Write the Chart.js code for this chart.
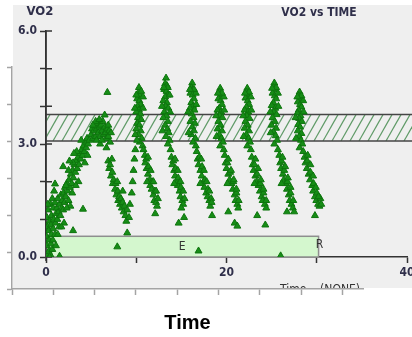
<!DOCTYPE html>
<html>
<head>
<meta charset="utf-8">
<script src="https://cdn.jsdelivr.net/npm/chart.js@4.4.1/dist/chart.umd.min.js"></script>
<style>
  body { margin: 0; background: #fff; }
  #wrap { position: relative; width: 412px; height: 337px; }
  #frame { position: absolute; left: 0; top: 0; }
  #vo2 { position: absolute; left: 13px; top: 5px; background: #efefef; }
</style>
</head>
<body>
<div id="wrap">
  <canvas id="frame" width="412" height="337"></canvas>
  <canvas id="vo2" width="399" height="283"></canvas>
</div>
<script>
const narrow = '"Liberation Sans Narrow", "DejaVu Sans Condensed", "Liberation Sans", sans-serif'
const ink = '#2f2f4a'

// VO2 readings, [minutes, L/min]
const rampUp = [
  [0.05,0.05],[0.1,0.3],[0.05,0.55],[0.15,0.8],[0.1,1.05],[0.3,0.15],[0.35,0.45],[0.3,0.7],
  [0.4,0.95],[0.25,1.25],[0.5,0.05],[0.55,0.35],[0.6,0.6],[0.55,0.85],[0.6,1.1],[0.5,1.4],
  [0.75,0.45],[0.8,0.75],[0.85,1.0],[0.8,1.3],[0.7,1.55],[1.0,0.6],[1.05,0.9],[1.1,1.15],
  [1.0,1.45],[1.2,1.3],[1.25,1.0],[1.3,1.55],[1.4,1.2],[1.45,0.8],[1.5,1.4],[1.6,1.1],
  [1.65,1.65],[1.0,1.94],[1.75,1.3],[1.8,1.5],[1.9,1.25],[1.95,1.7],[2.05,1.45],[2.1,1.85],
  [2.2,1.6],[2.3,1.95],[2.4,1.75],[2.5,1.5],[2.55,2.05],[2.65,1.85],[2.75,2.2],[2.85,1.95],
  [2.95,2.3],[3.05,2.1],[3.15,2.45],[3.25,2.25],[3.35,2.55],[3.45,2.35],[3.55,2.65],[3.65,2.45],
  [3.75,2.75],[3.85,2.6],[3.95,2.85],[4.05,2.7],[4.15,2.95],[4.25,2.8],[4.35,3.05],[4.45,2.9],
  [4.55,3.15],[4.65,3.0],[1.9,2.4],[2.2,1.9],[3.0,2.5],[2.6,2.55],[3.4,2.8],[2.0,0.9],
  [2.7,1.35],[3.6,2.0],[0.4,0.0],[1.5,0.02],[0.9,1.75],[1.3,0.6],[1.7,0.8],[2.3,1.3],
  [2.9,1.7],[3.3,1.9],[2.5,2.3],[3.1,2.75],[3.9,3.1],[4.3,2.5],[4.6,2.7],[0.2,1.4],
  [0.7,0.2],[1.1,0.3]
]
const plateau = [
  [4.8,3.1],[5.0,3.25],[5.1,3.4],[5.2,3.15],[5.3,3.35],[5.4,3.5],[5.5,3.2],[5.6,3.4],
  [5.7,3.55],[5.8,3.3],[5.9,3.45],[6.0,3.2],[6.1,3.5],[6.2,3.35],[6.3,3.6],[6.4,3.25],
  [6.5,3.45],[6.6,3.3],[6.7,3.15],[6.8,3.4],[6.9,3.2],[7.0,3.35],[7.1,3.05],[6.5,3.77],
  [5.5,3.6],[6.0,3.0],[6.7,2.9],[5.2,3.5],[5.6,3.1],[6.2,3.1],[6.9,3.5],[5.9,3.65],
  [7.2,3.3]
]
const firstDecay = [
  [6.9,2.55],[7.0,2.35],[7.1,2.45],[7.2,2.15],[7.35,2.25],[7.4,1.95],[7.5,2.05],[7.65,1.8],
  [7.7,1.95],[7.8,1.65],[7.95,1.75],[8.0,1.5],[8.1,1.6],[8.2,1.4],[8.3,1.55],[8.4,1.3],
  [8.5,1.45],[8.6,1.2],[8.7,1.35],[8.8,1.1],[8.9,0.95],[9.0,1.25],[9.2,1.05],[9.3,1.4],
  [9.5,1.7],[9.6,2.0],[9.7,2.3],[9.8,2.6],[9.9,2.85],[7.3,2.6],[7.9,2.0],[8.5,1.75]
]
const intervalPeaks = [
  [[10.3,4.5],[10.2,4.35],[10.4,4.3],[10.1,4.2],[10.35,4.15],[10.5,4.05],[10.15,4.0],[10.3,3.9],
   [10.0,3.85],[10.45,3.8],[10.2,3.7],[10.55,3.65],[10.1,3.55],[10.35,3.5],[10.0,3.4],[10.5,3.35],
   [10.25,3.25],[10.6,3.15],[10.4,3.05],[10.7,2.95],[10.1,3.1],
   [9.85,3.95],[10.75,3.95],[9.9,3.25],[10.75,4.25],[10.55,4.4],[10.0,4.3]],
  [[13.3,4.75],[13.2,4.6],[13.4,4.55],[13.1,4.45],[13.35,4.4],[13.5,4.3],[13.2,4.25],[13.0,4.15],
   [13.4,4.1],[13.25,4.0],[13.55,3.95],[13.1,3.85],[13.35,3.75],[13.0,3.7],[13.5,3.6],[13.2,3.5],
   [13.45,3.4],[13.6,3.3],[13.3,3.2],[13.7,3.1],[13.5,3.0],
   [12.85,4.0],[13.75,3.85],[12.9,3.35],[13.7,4.3],[13.5,4.5],[13.05,4.5]],
  [[16.2,4.62],[16.1,4.5],[16.3,4.45],[16.0,4.35],[16.25,4.3],[16.4,4.2],[16.1,4.1],[16.3,4.0],
   [15.95,3.95],[16.45,3.9],[16.15,3.8],[16.35,3.7],[16.0,3.6],[16.5,3.55],[16.2,3.45],[16.4,3.35],
   [16.1,3.25],[16.55,3.15],[16.3,3.05],[16.6,2.95],
   [15.75,3.85],[16.65,4.05],[15.8,3.3],[16.6,4.35],[16.4,4.45],[15.95,4.45]],
  [[19.3,4.48],[19.2,4.38],[19.4,4.3],[19.1,4.2],[19.35,4.15],[19.5,4.05],[19.2,3.95],[19.0,3.9],
   [19.4,3.85],[19.25,3.75],[19.55,3.7],[19.1,3.6],[19.35,3.5],[19.0,3.4],[19.5,3.35],[19.2,3.25],
   [19.45,3.15],[19.6,3.05],[19.3,2.95],
   [18.85,3.75],[19.75,3.9],[18.9,3.2],[19.7,4.25],[19.5,4.35],[19.05,4.35]],
  [[22.3,4.48],[22.2,4.38],[22.4,4.3],[22.1,4.22],[22.35,4.15],[22.5,4.05],[22.2,3.98],[22.0,3.9],
   [22.4,3.85],[22.25,3.75],[22.55,3.68],[22.1,3.6],[22.35,3.5],[22.0,3.42],[22.5,3.35],[22.2,3.25],
   [22.45,3.15],[22.6,3.05],[22.3,2.95],
   [21.85,3.75],[22.75,3.9],[21.9,3.2],[22.7,4.25],[22.5,4.38],[22.05,4.35]],
  [[25.3,4.62],[25.2,4.5],[25.4,4.45],[25.1,4.35],[25.35,4.28],[25.5,4.2],[25.2,4.1],[25.0,4.02],
   [25.4,3.95],[25.25,3.85],[25.55,3.78],[25.1,3.7],[25.35,3.6],[25.0,3.5],[25.5,3.42],[25.2,3.32],
   [25.45,3.22],[25.6,3.1],[25.3,3.0],
   [24.85,3.85],[25.75,4.0],[24.9,3.3],[25.7,4.35],[25.5,4.5],[25.05,4.48]],
  [[28.1,4.38],[28.0,4.28],[28.2,4.2],[27.9,4.12],[28.15,4.05],[28.3,3.98],[28.0,3.9],[27.85,3.82],
   [28.2,3.75],[28.05,3.68],[28.35,3.6],[27.95,3.52],[28.15,3.45],[27.9,3.35],[28.3,3.28],[28.05,3.2],
   [28.25,3.1],[28.4,3.0],[28.1,2.9],
   [27.65,3.7],[28.55,3.85],[27.7,3.15],[28.5,4.15],[28.3,4.28],[27.85,4.25]]
]
const intervalDecays = [
  [[10.8,2.85],[10.95,2.7],[11.0,2.5],[11.1,2.6],[11.15,2.35],[11.3,2.2],[11.35,2.4],[11.5,2.05],
   [11.55,1.9],[11.7,1.8],[11.75,2.0],[11.9,1.65],[12.0,1.5],[12.05,1.75],[12.2,1.45],[12.3,1.35],
   [11.3,2.65],[11.6,2.3],[11.9,2.0],[12.2,1.75],[12.4,1.55],[11.2,2.0]],
  [[13.8,2.85],[13.9,2.65],[14.0,2.45],[14.1,2.55],[14.2,2.3],[14.3,2.15],[14.35,2.35],[14.5,2.0],
   [14.6,1.9],[14.65,2.1],[14.8,1.75],[14.9,1.6],[14.95,1.85],[15.1,1.5],[15.2,1.4],[15.0,1.3],
   [14.3,2.6],[14.6,2.3],[14.9,2.0],[15.2,1.75],[15.35,1.55],[14.2,1.95]],
  [[16.7,2.8],[16.8,2.6],[16.9,2.45],[17.0,2.65],[17.1,2.3],[17.25,2.15],[17.3,2.4],[17.45,2.0],
   [17.55,1.85],[17.6,2.05],[17.75,1.7],[17.9,1.6],[17.95,1.8],[18.1,1.5],[18.2,1.35],[18.3,1.55],
   [17.2,2.6],[17.5,2.3],[17.8,2.0],[18.1,1.75],[18.35,1.45],[17.1,1.95]],
  [[19.7,2.85],[19.8,2.7],[19.9,2.5],[20.0,2.35],[20.1,2.5],[20.2,2.2],[20.35,2.05],[20.4,2.25],
   [20.55,1.95],[20.7,1.8],[20.75,2.0],[20.9,1.65],[21.0,1.5],[21.1,1.7],[21.2,1.4],[21.3,1.3],
   [20.2,2.6],[20.5,2.3],[20.8,2.05],[21.1,1.8],[21.35,1.5],[20.1,1.95]],
  [[22.7,2.85],[22.8,2.65],[22.9,2.45],[23.0,2.3],[23.1,2.45],[23.2,2.15],[23.35,2.0],[23.4,2.2],
   [23.55,1.9],[23.7,1.75],[23.75,1.95],[23.9,1.6],[24.0,1.5],[24.1,1.7],[24.25,1.4],[24.4,1.3],
   [23.2,2.6],[23.5,2.35],[23.8,2.05],[24.1,1.8],[24.4,1.5],[23.1,1.95]],
  [[25.7,2.85],[25.85,2.7],[25.95,2.5],[26.05,2.35],[26.1,2.55],[26.25,2.2],[26.35,2.05],[26.4,2.3],
   [26.55,1.95],[26.7,1.8],[26.75,2.0],[26.9,1.65],[27.0,1.5],[27.1,1.7],[27.2,1.4],[27.35,1.3],
   [26.2,2.65],[26.5,2.4],[26.8,2.1],[27.1,1.85],[27.4,1.5],[26.1,1.95]],
  [[28.5,2.8],[28.65,2.65],[28.75,2.5],[28.9,2.35],[28.95,2.55],[29.1,2.2],[29.25,2.05],[29.3,2.25],
   [29.5,1.9],[29.6,1.75],[29.65,1.95],[29.8,1.6],[29.95,1.5],[30.0,1.7],[30.15,1.4],[30.3,1.35],
   [30.4,1.55],[29.0,2.7],[29.3,2.45],[29.6,2.15],[29.9,1.85],[30.2,1.6],[30.5,1.4]]
]
const strayReadings = [
  [7.9,0.27],[9.0,0.64],[14.7,0.9],[16.9,0.16],[20.9,0.9],[21.2,0.82],[24.3,0.85],[26.0,0.03],
  [20.2,1.2],[23.4,1.1],[26.7,1.2],[27.5,1.2],[29.8,1.1],[12.1,1.15],[15.3,1.05],[18.4,1.1],
  [6.8,4.37],[4.1,1.27],[3.0,0.7]
]
const legendMark = [[-2.0,6.18]]

// target zone and exercise phase bar
const targetZone = [3.08, 3.78]
const exercisePhase = [0, 30.2]
const phaseBarTop = 0.55
const yLabelValues = [0, 3, 6]
const xLabelValues = [0, 20, 40]

const toPoints = pairs => pairs.map(([x, y]) => ({ x, y }))

const readings = [
  ...rampUp, ...plateau, ...firstDecay,
  ...intervalPeaks.flat(), ...intervalDecays.flat(), ...strayReadings
]

const marker = {
  pointStyle: 'triangle',
  pointRadius: 4,
  pointBackgroundColor: '#168d16',
  pointBorderColor: '#0d740d',
  pointBorderWidth: 1,
  showLine: false
}

// band, phase bar, inner ticks and captions of the VO2 plot
const vo2Extras = {
  id: 'vo2Extras',
  beforeDatasetsDraw(chart) {
    const { ctx, chartArea: a, scales: { x, y } } = chart
    const bandTop = y.getPixelForValue(targetZone[1])
    const bandBot = y.getPixelForValue(targetZone[0])
    ctx.save()
    ctx.beginPath()
    ctx.rect(a.left, bandTop, chart.width - a.left, bandBot - bandTop)
    ctx.clip()
    ctx.strokeStyle = '#5f9a67'
    ctx.lineWidth = 1.2
    for (let px = a.left - 20; px < chart.width + 20; px += 9) {
      ctx.beginPath()
      ctx.moveTo(px, bandBot)
      ctx.lineTo(px + 15, bandTop)
      ctx.stroke()
    }
    ctx.restore()

    ctx.save()
    ctx.strokeStyle = '#454545'
    ctx.lineWidth = 1.5
    ctx.beginPath()
    ctx.moveTo(a.left, bandTop); ctx.lineTo(chart.width, bandTop)
    ctx.moveTo(a.left, bandBot); ctx.lineTo(chart.width, bandBot)
    ctx.stroke()

    // exercise phase bar
    const x0 = x.getPixelForValue(exercisePhase[0])
    const x1 = x.getPixelForValue(exercisePhase[1])
    const yt = y.getPixelForValue(phaseBarTop)
    const yb = y.getPixelForValue(0)
    ctx.fillStyle = '#d4f7ce'
    ctx.fillRect(x0, yt, x1 - x0, yb - yt)
    ctx.strokeStyle = '#8e8e8e'
    ctx.strokeRect(x0, yt, x1 - x0, yb - yt)
    ctx.strokeStyle = '#333'
    ctx.beginPath()
    ctx.moveTo(a.left, a.top); ctx.lineTo(a.left, yb + 4)
    ctx.stroke()

    ctx.fillStyle = '#333'
    ctx.font = '12px ' + narrow
    ctx.textAlign = 'center'
    ctx.textBaseline = 'middle'
    ctx.fillText('E', (x0 + x1) / 2, (yt + yb) / 2)
    ctx.fillText('R', x1 + 1, (yt + yb) / 2 - 2)

    // tick marks on the inner side of the VO2 axis
    ctx.strokeStyle = '#333'
    ctx.lineWidth = 1.5
    ctx.beginPath()
    y.ticks.forEach(t => {
      const py = y.getPixelForValue(t.value)
      ctx.moveTo(a.left, py); ctx.lineTo(a.left + 6, py)
    })
    ctx.stroke()
    ctx.restore()
  },
  afterDraw(chart) {
    const { ctx } = chart
    ctx.save()
    ctx.fillStyle = ink
    ctx.font = 'bold 13px ' + narrow
    ctx.textAlign = 'center'
    ctx.textBaseline = 'middle'
    ctx.fillText('VO2', 27, 7)
    ctx.font = 'bold 12px ' + narrow
    ctx.fillText('VO2 vs TIME', 306, 8)
    ctx.font = '12px ' + narrow
    ctx.fillStyle = '#333'
    ctx.textAlign = 'left'
    ctx.textBaseline = 'top'
    ctx.fillText('Time    (NONE)', 267, 279)
    ctx.restore()
  }
}

new Chart('vo2', {
  type: 'scatter',
  data: {
    datasets: [
      { label: 'VO2', data: toPoints(readings), ...marker },
      { label: 'key', data: toPoints(legendMark), ...marker, clip: false }
    ]
  },
  options: {
    responsive: false,
    animation: false,
    events: [],
    layout: { padding: { top: 26, right: 1, left: 0, bottom: 0 } },
    plugins: { legend: { display: false }, tooltip: { enabled: false } },
    scales: {
      x: {
        min: 0, max: 40,
        ticks: {
          stepSize: 10, padding: 3, color: ink, maxRotation: 0,
          font: { family: narrow, size: 12, weight: 'bold' },
          callback: v => xLabelValues.includes(v) ? String(v) : ''
        },
        grid: { drawOnChartArea: false, tickLength: 6, tickColor: '#333', tickWidth: 1.5 },
        border: { color: '#333', width: 1.5 },
        afterFit(s) { s.height = 31; s.paddingLeft = 0; s.paddingRight = 0 }
      },
      y: {
        min: 0, max: 6,
        ticks: {
          stepSize: 1, padding: 3, color: ink,
          font: { family: narrow, size: 12, weight: 'bold' },
          callback: v => yLabelValues.includes(v) ? v.toFixed(1) : ''
        },
        grid: { drawOnChartArea: false, tickLength: 6, tickColor: '#333', tickWidth: 1.5 },
        border: { color: '#333', width: 1.5 },
        afterFit(s) { s.width = 33; s.paddingTop = 0; s.paddingBottom = 0 }
      }
    }
  },
  plugins: [vo2Extras]
})

// surrounding frame with the Time axis
const frameGrey = '#a4a4a4'
new Chart('frame', {
  type: 'scatter',
  data: { datasets: [] },
  options: {
    responsive: false,
    animation: false,
    events: [],
    layout: { padding: { top: 67, right: 49, left: 0, bottom: 0 } },
    plugins: { legend: { display: false }, tooltip: { enabled: false } },
    scales: {
      x: {
        min: 0, max: 8.5,
        ticks: { stepSize: 1, includeBounds: false, callback: () => '' },
        grid: { drawOnChartArea: false, tickLength: 6, tickColor: frameGrey, tickWidth: 1.5 },
        border: { color: frameGrey, width: 1.5 },
        title: {
          display: true, text: 'Time', color: '#000',
          font: { family: '"Liberation Sans", Arial, sans-serif', size: 20, weight: 'bold' },
          padding: { top: 0, bottom: 2 }
        },
        afterFit(s) { s.height = 48; s.paddingLeft = 0; s.paddingRight = 0 }
      },
      y: {
        min: 0, max: 6,
        ticks: { stepSize: 1, callback: () => '' },
        grid: { drawOnChartArea: false, tickLength: 5, tickColor: frameGrey, tickWidth: 1.5 },
        border: { color: frameGrey, width: 1.5 },
        afterFit(s) { s.width = 12; s.paddingTop = 0; s.paddingBottom = 0 }
      }
    }
  }
})
</script>
</body>
</html>
